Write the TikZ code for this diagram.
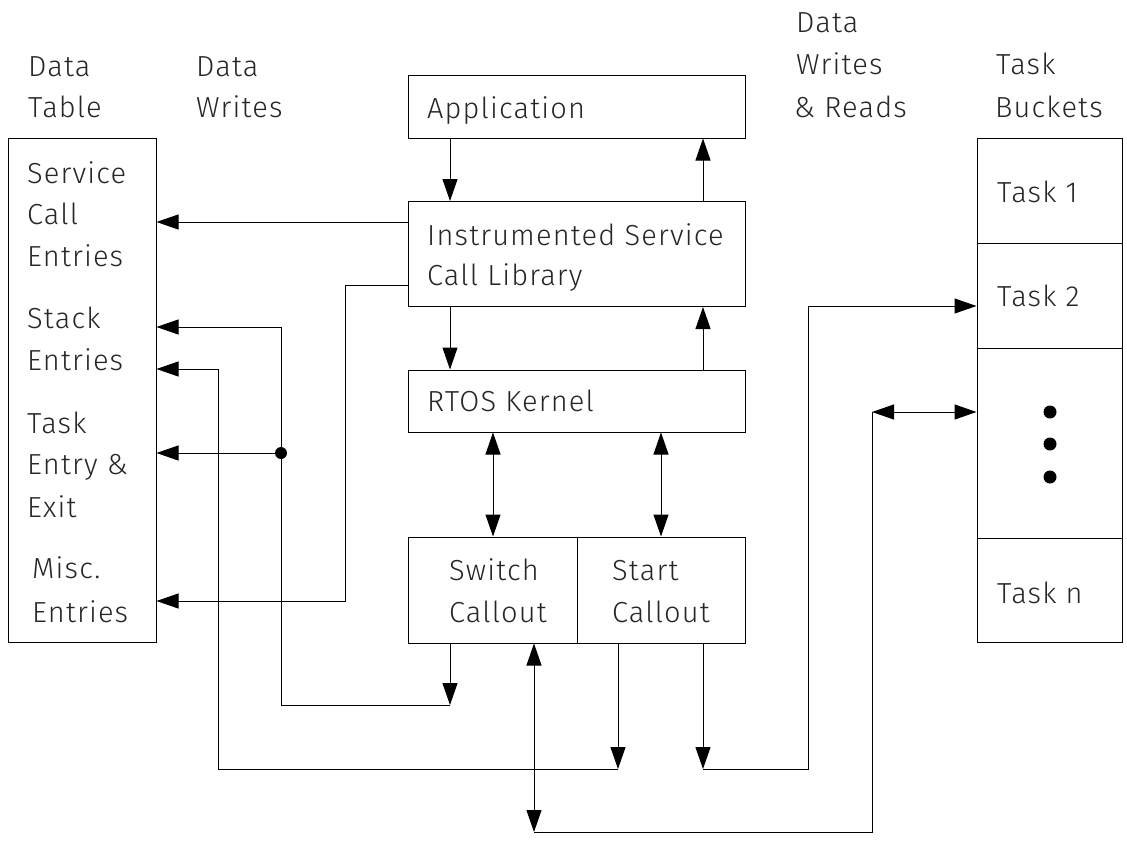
\documentclass[tikz,border=0pt]{standalone}
\usepackage{fontspec}
\setmainfont[LetterSpace=4]{Fira Sans Light}
\usetikzlibrary{arrows.meta}
\begin{document}
\begin{tikzpicture}[x=1pt,y=-1pt,
  box/.style={draw,line width=1pt,inner sep=0pt,minimum width=337pt},
  lbl/.style={anchor=base west,inner sep=0pt,text=black!85,font=\fontsize{29}{34}\selectfont},
  wire/.style={line width=1pt},
  arr/.style={wire,-{Triangle[length=22pt,width=15pt]}},
  darr/.style={wire,{Triangle[length=22pt,width=15pt]}-{Triangle[length=22pt,width=15pt]}}]
\useasboundingbox (0,0) rectangle (1127,846);
% boxes
\node[box,minimum width=148pt,minimum height=504pt] (dt) at (82,390) {};
\node[box,minimum height=63pt] (app) at (576.5,106.5) {};
\node[box,minimum height=105pt] (isc) at (576.5,254) {};
\node[box,minimum height=62pt] (rtos) at (576.5,401) {};
\node[box,minimum width=169pt,minimum height=106pt] (sw) at (492.5,590) {};
\node[box,minimum width=168pt,minimum height=106pt] (st) at (661,590) {};
\node[box,minimum width=145pt,minimum height=105pt] (tb1) at (1049.5,190.5) {};
\node[box,minimum width=145pt,minimum height=105pt] (tb2) at (1049.5,295.5) {};
\node[box,minimum width=145pt,minimum height=190pt] (tbd) at (1049.5,443) {};
\node[box,minimum width=145pt,minimum height=104pt] (tbn) at (1049.5,590) {};
% headers
\node[lbl] (h1) at (28,76) {Data};
\node[lbl] (h2) at (28,117) {Table};
\node[lbl] (h3) at (196,76) {Data};
\node[lbl] (h4) at (196,117) {Writes};
\node[lbl] (h5) at (796,32) {Data};
\node[lbl] (h6) at (796,74) {Writes};
\node[lbl] (h7) at (794,117) {\& Reads};
\node[lbl] (h8) at (996,74) {Task};
\node[lbl] (h9) at (995,117) {Buckets};
% box texts
\node[lbl] (t1) at (427,118) {Application};
\node[lbl] (t2) at (427,245) {Instrumented Service};
\node[lbl] (t3) at (427,285) {Call Library};
\node[lbl] (t4) at (427,411) {RTOS Kernel};
\node[lbl] (t5) at (449,580) {Switch};
\node[lbl] (t6) at (449,622) {Callout};
\node[lbl] (t7) at (612,580) {Start};
\node[lbl] (t8) at (612,622) {Callout};
\node[lbl] (t9) at (997,202) {Task 1};
\node[lbl] (t10) at (997,306) {Task 2};
\node[lbl] (t11) at (997,603) {Task n};
% data table entries
\node[lbl] (e1) at (27,183) {Service};
\node[lbl] (e2) at (27,224) {Call};
\node[lbl] (e3) at (27,266) {Entries};
\node[lbl] (e4) at (27,328) {Stack};
\node[lbl] (e5) at (27,370) {Entries};
\node[lbl] (e6) at (27,433) {Task};
\node[lbl] (e7) at (27,474) {Entry \&};
\node[lbl] (e8) at (27,517) {Exit};
\node[lbl] (e9) at (32,578) {Misc.};
\node[lbl] (e10) at (32,622) {Entries};
% dots
\fill (1050,412) circle (6.5pt);
\fill (1050,444) circle (6.5pt);
\fill (1050,477) circle (6.5pt);
% columns and rows
\coordinate (cA) at (450,0);
\coordinate (cB) at (703,0);
\coordinate (cC) at (493,0);
\coordinate (cD) at (661,0);
\coordinate (cE) at (534,0);
\coordinate (cF) at (618,0);
\coordinate (cH) at (281,0);
\coordinate (cI) at (218,0);
\coordinate (cJ) at (345,0);
\coordinate (cK) at (808,0);
\coordinate (cL) at (872,0);
\coordinate (r1) at (0,222);
\coordinate (r2) at (0,285);
\coordinate (r3) at (0,327);
\coordinate (r4) at (0,369);
\coordinate (r5) at (0,453);
\coordinate (r6) at (0,601);
\coordinate (r7) at (0,705);
\coordinate (r8) at (0,769);
\coordinate (r9) at (0,832);
\coordinate (r10) at (0,306);
\coordinate (r11) at (0,412);
% central stack
\draw[arr] (app.south -| cA) -- (isc.north -| cA);
\draw[arr] (isc.north -| cB) -- (app.south -| cB);
\draw[arr] (isc.south -| cA) -- (rtos.north -| cA);
\draw[arr] (rtos.north -| cB) -- (isc.south -| cB);
\draw[darr] (rtos.south -| cC) -- (sw.north -| cC);
\draw[darr] (rtos.south -| cD) -- (st.north -| cD);
% to data table
\draw[arr] (isc.west |- r1) -- (dt.east |- r1);
\draw[arr] (isc.west |- r2) -- (cJ |- r2) -- (cJ |- r6) -- (dt.east |- r6);
\draw[arr] (sw.south -| cA) -- (cA |- r7);
\draw[arr] (cA |- r7) -- (cH |- r7) -- (cH |- r3) -- (dt.east |- r3);
\node[circle,fill,inner sep=0pt,minimum size=12pt] (jn) at (cH |- r5) {};
\draw[arr] (jn.center) -- (dt.east |- r5);
\draw[arr] (st.south -| cF) -- (cF |- r8);
\draw[arr] (cF |- r8) -- (cI |- r8) -- (cI |- r4) -- (dt.east |- r4);
% to task buckets
\draw[arr] (st.south -| cB) -- (cB |- r8);
\draw[arr] (cB |- r8) -- (cK |- r8) -- (cK |- r10) -- (tb2.west |- r10);
\draw[darr] (sw.south -| cE) -- (cE |- r9);
\draw[wire] (cE |- r9) -- (cL |- r9) -- (cL |- r11);
\draw[darr] (cL |- r11) -- (tbd.west |- r11);
\end{tikzpicture}
\end{document}
